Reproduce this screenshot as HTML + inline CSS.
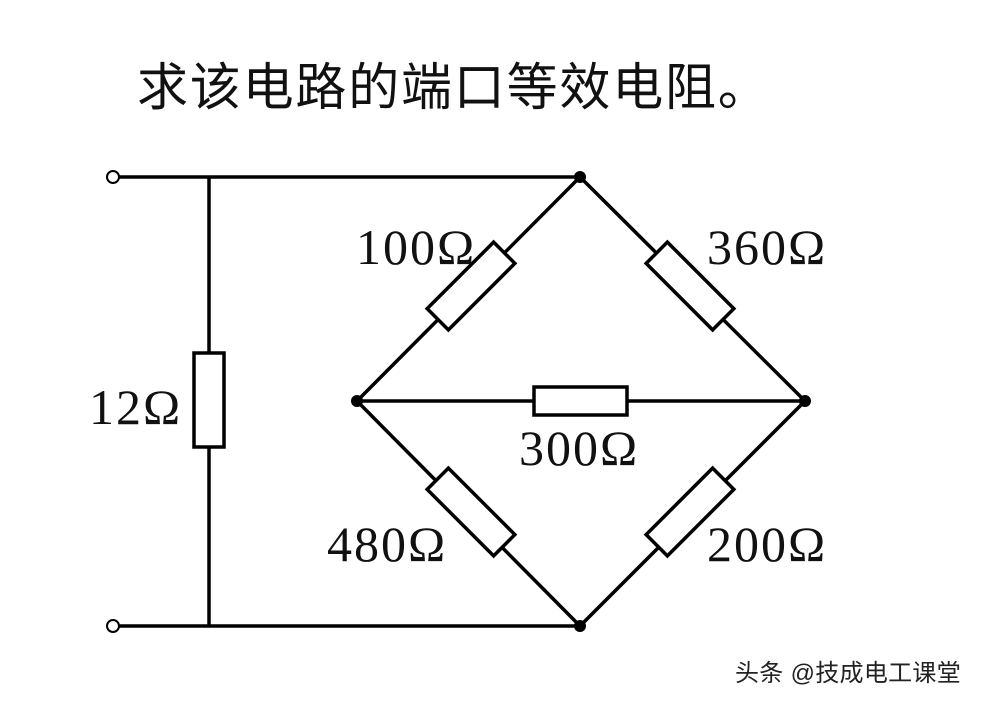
<!DOCTYPE html>
<html><head><meta charset="utf-8"><style>
html,body{margin:0;padding:0;background:#fff;}
body{width:984px;height:704px;overflow:hidden;}
</style></head><body>
<svg width="984" height="704" viewBox="0 0 984 704" xmlns="http://www.w3.org/2000/svg">
<rect width="984" height="704" fill="#fff"/>
<text x="137" y="105" font-family="'Liberation Sans','Noto Sans CJK SC',sans-serif" font-size="51" letter-spacing="1.8" fill="#111">求该电路的端口等效电阻。</text>
<g stroke="#000" stroke-width="3.5" fill="none">
<line x1="119" y1="177" x2="580" y2="177"/>
<line x1="119" y1="626" x2="580" y2="626"/>
<line x1="209" y1="177" x2="209" y2="626"/>
<line x1="580" y1="177" x2="357" y2="401"/>
<line x1="580" y1="177" x2="805" y2="401"/>
<line x1="357" y1="401" x2="580" y2="626"/>
<line x1="805" y1="401" x2="580" y2="626"/>
<line x1="357" y1="401" x2="805" y2="401"/>
</g>
<g stroke="#000" stroke-width="3.5" fill="#fff">
<rect x="194" y="353" width="30" height="94"/>
<rect x="534" y="387" width="93" height="28"/>
<rect x="-47" y="-15" width="94" height="30" transform="translate(471,286) rotate(-45)"/>
<rect x="-47" y="-15" width="94" height="30" transform="translate(690,286) rotate(45)"/>
<rect x="-47" y="-15" width="94" height="30" transform="translate(471,512) rotate(45)"/>
<rect x="-47" y="-15" width="94" height="30" transform="translate(690,512) rotate(-45)"/>
</g>
<g fill="#fff" stroke="#000" stroke-width="2">
<circle cx="113" cy="177" r="6"/>
<circle cx="113" cy="626" r="6"/>
</g>
<g fill="#000">
<circle cx="580" cy="177" r="6"/>
<circle cx="580" cy="626" r="6"/>
<circle cx="357" cy="401" r="6"/>
<circle cx="805" cy="401" r="6"/>
</g>
<g font-family="'Liberation Serif',serif" font-size="50" fill="#111" letter-spacing="2">
<text x="356" y="264">100Ω</text>
<text x="707" y="264">360Ω</text>
<text x="89" y="424">12Ω</text>
<text x="519" y="465">300Ω</text>
<text x="327" y="561">480Ω</text>
<text x="707" y="561">200Ω</text>
</g>
<text x="735" y="681" font-family="'Liberation Sans','Noto Sans CJK SC',sans-serif" font-size="24" letter-spacing="0.3" fill="#222">头条 @技成电工课堂</text>
</svg>
</body></html>
